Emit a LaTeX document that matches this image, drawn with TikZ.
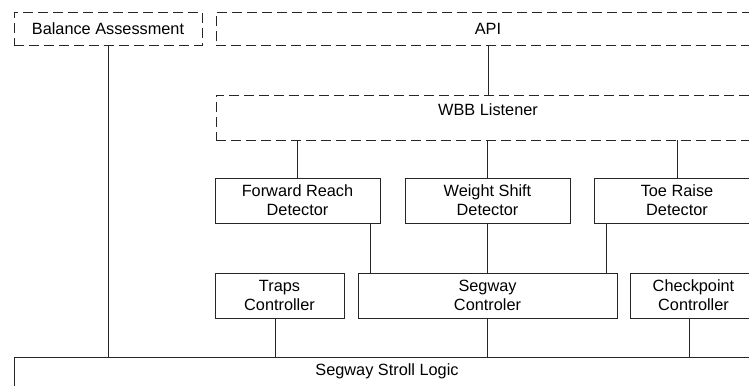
\documentclass[tikz,border=0pt]{standalone}
\usepackage{fontspec}
\setmainfont{Liberation Sans}
\begin{document}
\begin{tikzpicture}[x=1bp,y=-1bp,
    every node/.style={font=\fontsize{16.3bp}{19bp}\selectfont},
    box/.style={draw=black!85, line width=0.9bp, align=center, inner sep=0pt},
    dashbox/.style={box, dash pattern=on 10bp off 5bp},
    link/.style={draw=black!85, line width=0.9bp}]
      \useasboundingbox (0,0) rectangle (749,385);
      \clip (0,0) rectangle (749,385);
      % fila superior
      \node[dashbox, minimum width=188bp, minimum height=33bp] (bal) at (108,28.5) {Balance Assessment};
      \node[dashbox, minimum width=544bp, minimum height=33bp] (api) at (488,28.5) {API};
      \node[dashbox, minimum width=544bp, minimum height=45bp, text height=12bp, text depth=15.3bp] (wbb) at (488,117.5) {WBB Listener};
      % detectores
      \node[box, minimum width=165bp, minimum height=45bp] (fr) at (297.5,200.5) {Forward Reach\\Detector};
      \node[box, minimum width=165bp, minimum height=45bp] (ws) at (487.5,200.5) {Weight Shift\\Detector};
      \node[box, minimum width=166bp, minimum height=45bp] (tr) at (677,200.5) {Toe Raise\\Detector};
      % controladores
      \node[box, minimum width=129bp, minimum height=45bp] (traps) at (279.5,295.5) {Traps\\Controller};
      \node[box, minimum width=259bp, minimum height=45bp] (seg) at (487.5,295.5) {Segway\\Controler};
      \node[box, minimum width=127bp, minimum height=45bp] (chk) at (693.5,295.5) {Checkpoint\\Controller};
      % logica
      \node[box, minimum width=746bp, minimum height=45bp, text height=12bp, text depth=19.3bp] (stroll) at (387,379.5) {Segway Stroll Logic};
      % conexiones
      \draw[link] (bal) -- (bal |- stroll.north);
      \draw[link] (api) -- (wbb);
      \foreach \d in {fr,ws,tr}
      \draw[link] (\d) -- (\d |- wbb.south);
      \draw[link] ([xshift=-10bp]fr.south east) -- ([xshift=-10bp]fr.south east |- seg.north);
      \draw[link] (ws) -- (seg);
      \draw[link] ([xshift=13bp]tr.south west) -- ([xshift=13bp]tr.south west |- seg.north);
      \draw[link] ([xshift=-4.5bp]traps.south) -- ([xshift=-4.5bp]traps.south |- stroll.north);
      \draw[link] (seg) -- (seg |- stroll.north);
      \draw[link] ([xshift=-4.5bp]chk.south) -- ([xshift=-4.5bp]chk.south |- stroll.north);
  \end{tikzpicture}
\end{document}
